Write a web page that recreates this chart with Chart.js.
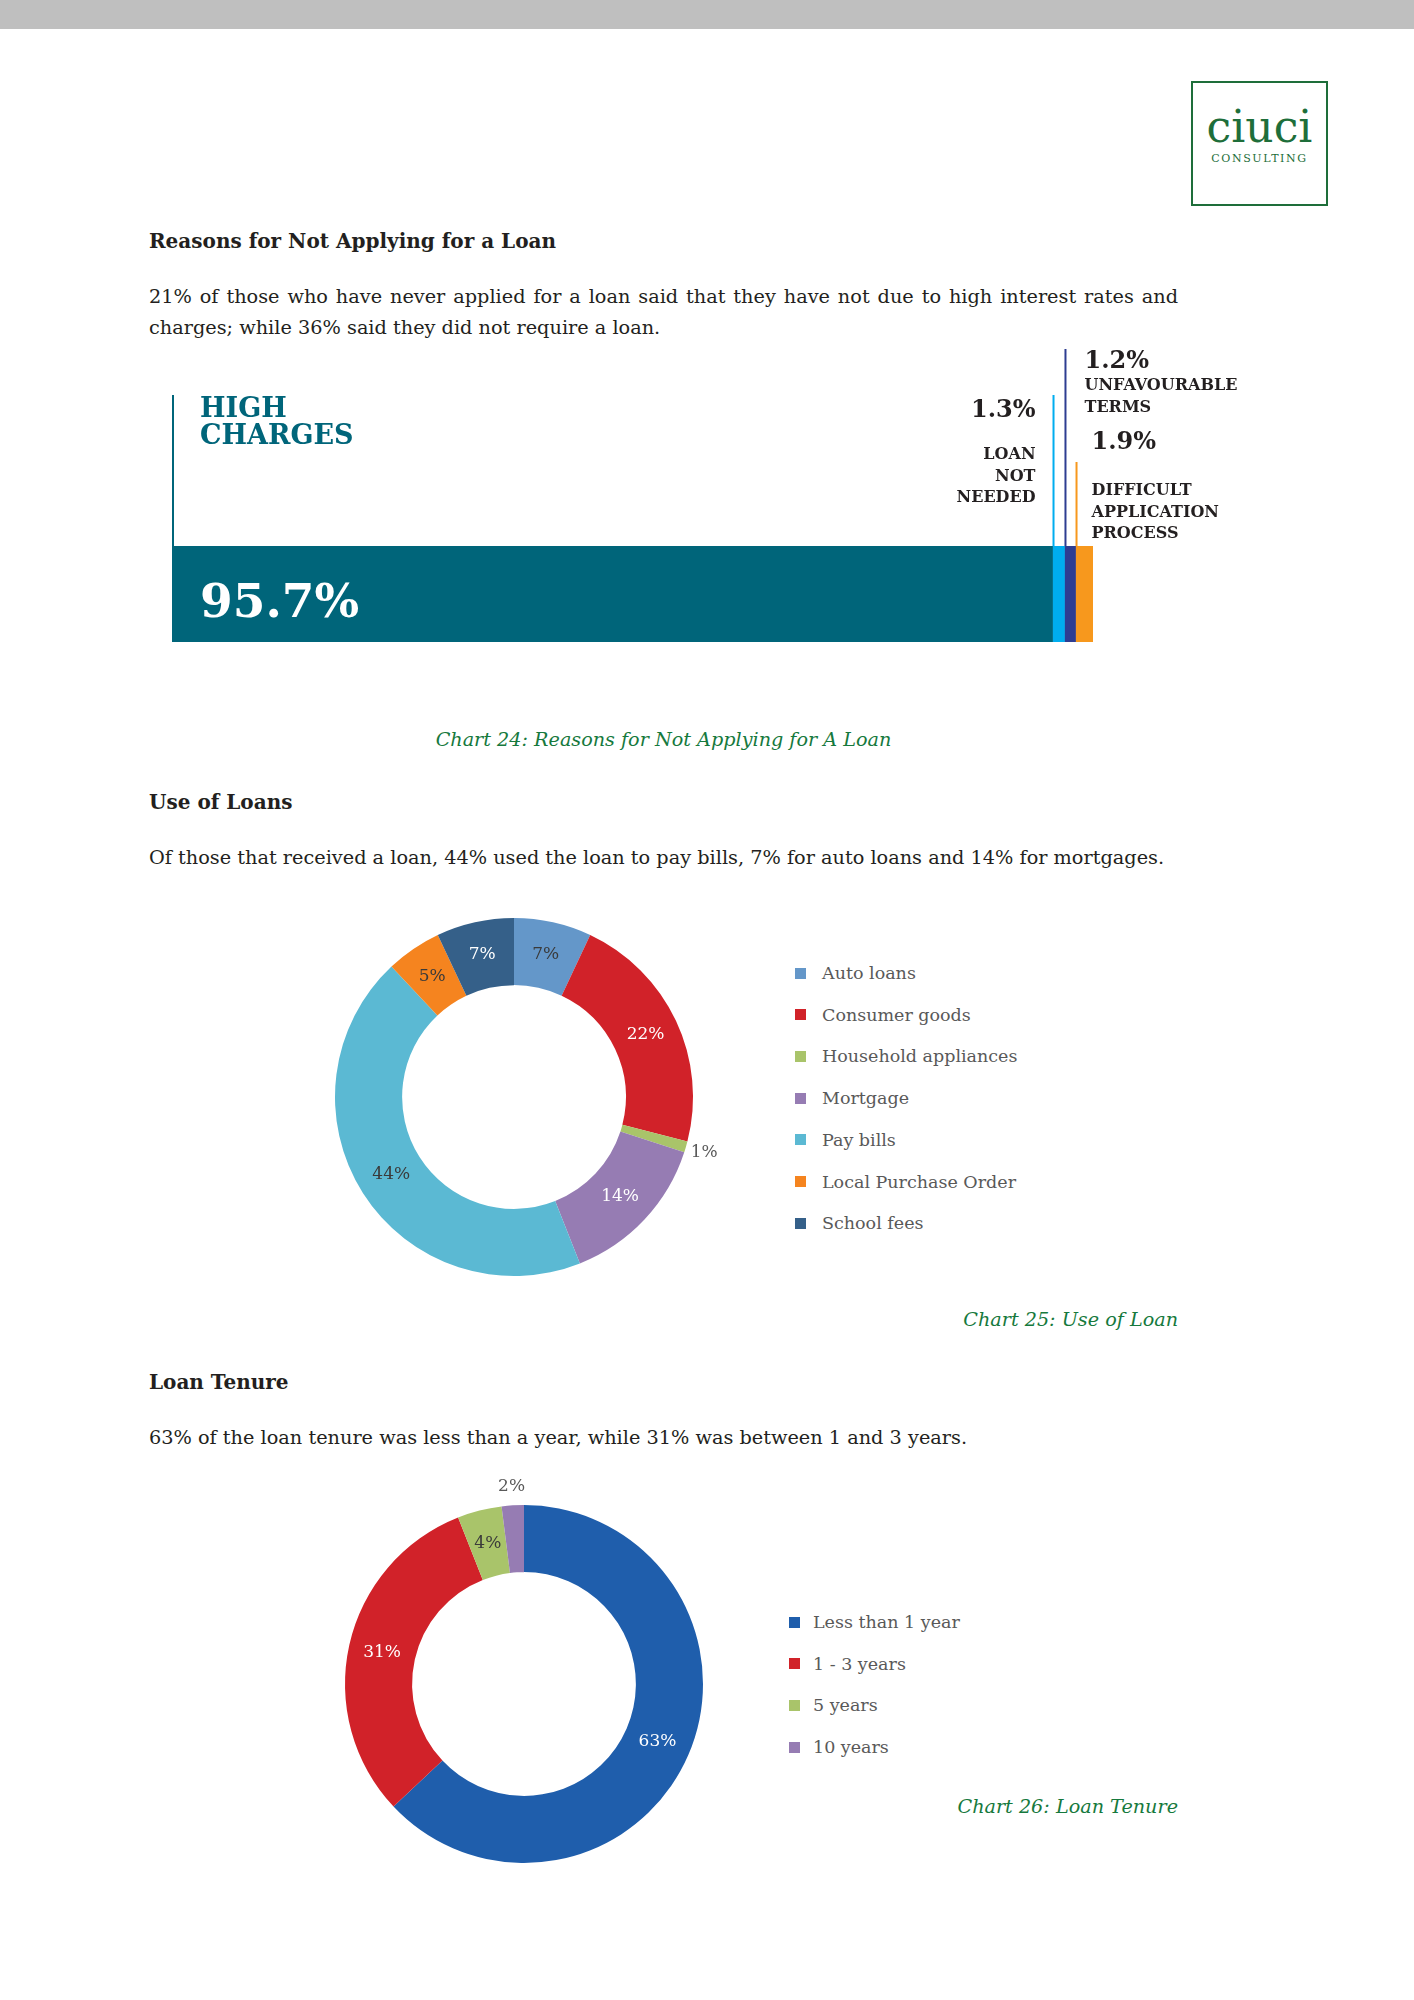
<!DOCTYPE html>
<html>
<head>
<meta charset="utf-8">
<script src="https://cdn.jsdelivr.net/npm/chart.js@4.4.0/dist/chart.umd.min.js"></script>
<style>
  body { margin: 0; background: #fff; font-family: "DejaVu Serif", serif; color: #231f20; }
  #page { position: relative; width: 1414px; height: 2000px; overflow: hidden; }
  .abs { position: absolute; }
  .topbar { left: 0; top: 0; width: 1414px; height: 29px; background: #bfbfbf; }
  .logo { left: 1191px; top: 81px; width: 133px; height: 121px; border: 2px solid #1e6e3a; color: #1e6e3a; text-align: center; }
  .logo .big { position: absolute; left: 0; width: 100%; top: 22px; font-size: 44px; line-height: 44px; }
  .logo .small { position: absolute; left: 0; width: 100%; top: 70px; font-size: 11px; letter-spacing: 1.6px; line-height: 12px; }
  .head { left: 149px; font-weight: bold; font-size: 20px; line-height: 30px; }
  .para { left: 149px; font-size: 19.3px; line-height: 31px; white-space: nowrap; }
  .just { width: 1029px; white-space: normal; text-align: justify; }
  .cap { font-style: italic; color: #16793d; font-size: 19.2px; line-height: 30px; white-space: nowrap; }
  .legend { font-size: 17.5px; color: #595959; }
  .legend div { position: absolute; white-space: nowrap; line-height: 24px; }
  .legend span { position: absolute; width: 11px; height: 11px; }
  canvas { position: absolute; }
</style>
</head>
<body>
<div id="page">
  <div class="abs topbar"></div>
  <div class="abs logo"><div class="big">ciuci</div><div class="small">CONSULTING</div></div>

  <div class="abs head" style="top:226px">Reasons for Not Applying for a Loan</div>
  <div class="abs para just" style="top:281px">21% of those who have never applied for a loan said that they have not due to high interest rates and charges; while 36% said they did not require a loan.</div>

  <canvas id="barChart" width="1110" height="305" style="left:150px; top:340px"></canvas>

  <div class="abs cap" style="left:149px; width:1029px; text-align:center; top:725px">Chart 24: Reasons for Not Applying for A Loan</div>

  <div class="abs head" style="top:787px">Use of Loans</div>
  <div class="abs para" style="top:842px">Of those that received a loan, 44% used the loan to pay bills, 7% for auto loans and 14% for mortgages.</div>

  <canvas id="useChart" width="460" height="420" style="left:284px; top:887px"></canvas>
  <div class="abs legend" id="useLegend"></div>

  <div class="abs cap" style="right:236px; top:1305px">Chart 25: Use of Loan</div>

  <div class="abs head" style="top:1367px">Loan Tenure</div>
  <div class="abs para" style="top:1422px">63% of the loan tenure was less than a year, while 31% was between 1 and 3 years.</div>

  <canvas id="tenureChart" width="460" height="440" style="left:294px; top:1464px"></canvas>
  <div class="abs legend" id="tenureLegend"></div>

  <div class="abs cap" style="right:236px; top:1792px">Chart 26: Loan Tenure</div>
</div>

<script>
// chart 24 - reasons for not applying
const reasonNames = ['HIGH CHARGES', 'LOAN NOT NEEDED', 'UNFAVOURABLE TERMS', 'DIFFICULT APPLICATION PROCESS'];
const reasonValues = [95.7, 1.3, 1.2, 1.9];
const reasonColors = ['#00657a', '#00adef', '#2e3d91', '#f7981d'];

// chart 25 - use of loans
const useLabels = ['Auto loans', 'Consumer goods', 'Household appliances', 'Mortgage', 'Pay bills', 'Local Purchase Order', 'School fees'];
const useValues = [7, 22, 1, 14, 44, 5, 7];
const useColors = ['#6497c9', '#d12229', '#a9c46a', '#967cb3', '#5bb9d3', '#f5841f', '#356089'];
const useTextColors = ['#3a3a3a', '#ffffff', '#595959', '#ffffff', '#3a3a3a', '#3a3a3a', '#ffffff'];

// chart 26 - loan tenure
const tenureLabels = ['Less than 1 year', '1 - 3 years', '5 years', '10 years'];
const tenureValues = [63, 31, 4, 2];
const tenureColors = ['#1f5eac', '#d12229', '#a9c46a', '#967cb3'];
const tenureTextColors = ['#ffffff', '#ffffff', '#3a3a3a', '#595959'];

const serif = '"DejaVu Serif", serif';

// where the text sits next to each leader line (offsets from top of the bar)
const reasonLabelStyle = [
    {lineTop: -151, side: 'in', pctY: 71, pctSize: 47, nameY: [-129, -102], nameSize: 27, dx: 28, color: '#00657a'},
    {lineTop: -151, side: 'left', pctY: -129, nameY: [-87, -65, -44], dx: -17},
    {lineTop: -197, side: 'right', pctY: -178, nameY: [-156, -134], dx: 20},
    {lineTop: -84, side: 'right', pctY: -97, nameY: [-51, -29, -8], dx: 16}
];
const nameLines = [['HIGH', 'CHARGES'], ['LOAN', 'NOT', 'NEEDED'], ['UNFAVOURABLE', 'TERMS'], ['DIFFICULT', 'APPLICATION', 'PROCESS']];

const barLabels = {
    id: 'barLabels',
    afterDatasetsDraw(chart) {
        const ctx = chart.ctx;
        ctx.save();
        reasonValues.forEach((v, i) => {
            const el = chart.getDatasetMeta(i).data[0];
            const left = Math.min(el.base, el.x);
            const top = el.y - el.height / 2;
            const st = reasonLabelStyle[i];
            // leader line
            ctx.fillStyle = reasonColors[i];
            ctx.fillRect(left, top + st.lineTop, 2, -st.lineTop);

            const tx = left + st.dx;
            ctx.textBaseline = 'alphabetic';
            if (st.side == 'in') {
                ctx.textAlign = 'left';
                ctx.fillStyle = st.color;
                ctx.font = 'bold ' + st.nameSize + 'px ' + serif;
                nameLines[i].forEach((t, k) => ctx.fillText(t, tx, top + st.nameY[k]));
                ctx.fillStyle = '#ffffff';
                ctx.font = 'bold ' + st.pctSize + 'px ' + serif;
                ctx.fillText(v + '%', tx, top + st.pctY);
            } else {
                ctx.textAlign = st.side == 'left' ? 'right' : 'left';
                ctx.fillStyle = '#231f20';
                ctx.font = 'bold 24px ' + serif;
                ctx.fillText(v + '%', tx, top + st.pctY);
                ctx.font = 'bold 16px ' + serif;
                nameLines[i].forEach((t, k) => ctx.fillText(t, tx, top + st.nameY[k]));
            }
        });
        ctx.restore();
    }
};

const total = reasonValues.reduce((a, b) => a + b, 0);

new Chart(document.getElementById('barChart'), {
    type: 'bar',
    data: {
        labels: ['Reasons'],
        datasets: reasonNames.map((n, i) => ({
            label: n,
            data: [reasonValues[i]],
            backgroundColor: reasonColors[i],
            barPercentage: 1,
            categoryPercentage: 1
        }))
    },
    options: {
        indexAxis: 'y',
        responsive: false,
        animation: false,
        layout: {padding: {left: 22, right: 167, top: 206, bottom: 3}},
        scales: {
            x: {stacked: true, display: false, min: 0, max: total},
            y: {stacked: true, display: false}
        },
        plugins: {legend: {display: false}, tooltip: {enabled: false}}
    },
    plugins: [barLabels]
});

// percent labels on the donuts, small slices go outside the ring
function donutLabels(values, textColors) {
    return {
        id: 'donutLabels',
        afterDatasetsDraw(chart) {
            const ctx = chart.ctx;
            ctx.save();
            ctx.font = '17px ' + serif;
            ctx.textAlign = 'center';
            ctx.textBaseline = 'middle';
            chart.getDatasetMeta(0).data.forEach((arc, i) => {
                const p = arc.getProps(['x', 'y', 'startAngle', 'endAngle', 'innerRadius', 'outerRadius']);
                const a = (p.startAngle + p.endAngle) / 2;
                let r = (p.innerRadius + p.outerRadius) / 2;
                if (values[i] <= 2) r = p.outerRadius + 19;
                ctx.fillStyle = textColors[i];
                ctx.fillText(values[i] + '%', p.x + Math.cos(a) * r, p.y + Math.sin(a) * r);
            });
            ctx.restore();
        }
    };
}

function donut(id, labels, values, colors, textColors, pad) {
    new Chart(document.getElementById(id), {
        type: 'doughnut',
        data: {
            labels: labels,
            datasets: [{data: values, backgroundColor: colors, borderWidth: 0}]
        },
        options: {
            responsive: false,
            animation: false,
            cutout: '62.5%',
            layout: {padding: pad},
            plugins: {legend: {display: false}, tooltip: {enabled: false}}
        },
        plugins: [donutLabels(values, textColors)]
    });
}

donut('useChart', useLabels, useValues, useColors, useTextColors, {left: 51, right: 51, top: 31, bottom: 31});
donut('tenureChart', tenureLabels, tenureValues, tenureColors, tenureTextColors, {left: 51, right: 51, top: 41, bottom: 41});

// legends
function buildLegend(id, labels, colors, boxX, textX, firstY, step) {
    const box = document.getElementById(id);
    labels.forEach((l, i) => {
        const y = firstY + i * step;
        const sq = document.createElement('span');
        sq.style.left = boxX + 'px';
        sq.style.top = (y - 5.5) + 'px';
        sq.style.background = colors[i];
        box.appendChild(sq);
        const t = document.createElement('div');
        t.style.left = textX + 'px';
        t.style.top = (y - 12) + 'px';
        t.textContent = l;
        box.appendChild(t);
    });
}
buildLegend('useLegend', useLabels, useColors, 795, 822, 973, 41.7);
buildLegend('tenureLegend', tenureLabels, tenureColors, 789, 813, 1622, 41.7);
</script>
</body>
</html>
